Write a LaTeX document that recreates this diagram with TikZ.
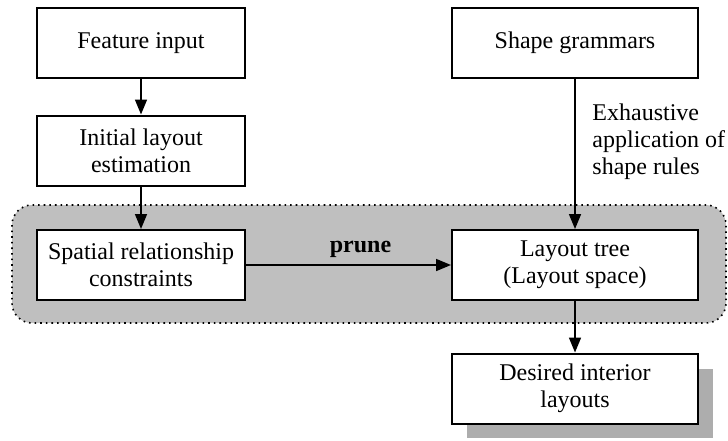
\documentclass[tikz,border=0pt]{standalone}
\usepackage{fontspec}
\setmainfont{Liberation Serif}
\usetikzlibrary{arrows.meta}

\begin{document}
\begin{tikzpicture}[x=0.5pt,y=-0.5pt,
        box/.style={draw,line width=1pt,fill=white,align=center,inner sep=0pt,
            minimum height=35pt,font=\fontsize{12}{13.6}\selectfont},
        narrow/.style={box,minimum width=104pt},
        wide/.style={box,minimum width=123pt},
        flow/.style={-{Triangle[length=7.5pt,width=6pt]},line width=0.8pt}]
            \useasboundingbox (0,0) rectangle (728,440);

            % grey area round the pruning step
            \draw[dotted,line width=0.8pt,fill=black!25,rounded corners=10pt] (12,205) rectangle (726,323);

            % shadow behind the result
            \fill[black!32] (467,369) rectangle (713,438);

            \node[narrow] (feat) at (141,43) {Feature input};
            \node[narrow] (init) at (141,150.5) {Initial layout\\estimation};
            \node[narrow] (spat) at (141,265) {Spatial relationship\\constraints};

            \node[wide] (grammar) at (575,43) {Shape grammars};
            \node[wide] (tree) at (575,265) {Layout tree\\(Layout space)};
            \node[wide] (desired) at (575,388.5) {Desired interior\\layouts};

            \draw[flow] (feat) -- (init);
            \draw[flow] (init) -- (spat);
            \draw[flow] (grammar) -- node[pos=0.42,right,xshift=5pt,align=left,
                font=\fontsize{12}{13.6}\selectfont] (rules) {Exhaustive\\application of\\shape rules} (tree);
            \draw[flow] (spat) -- node[above,xshift=6pt,font=\fontsize{12}{13.6}\bfseries] (prune) {prune} (tree);
            \draw[flow] (tree) -- (desired);
\end{tikzpicture}
\end{document}
